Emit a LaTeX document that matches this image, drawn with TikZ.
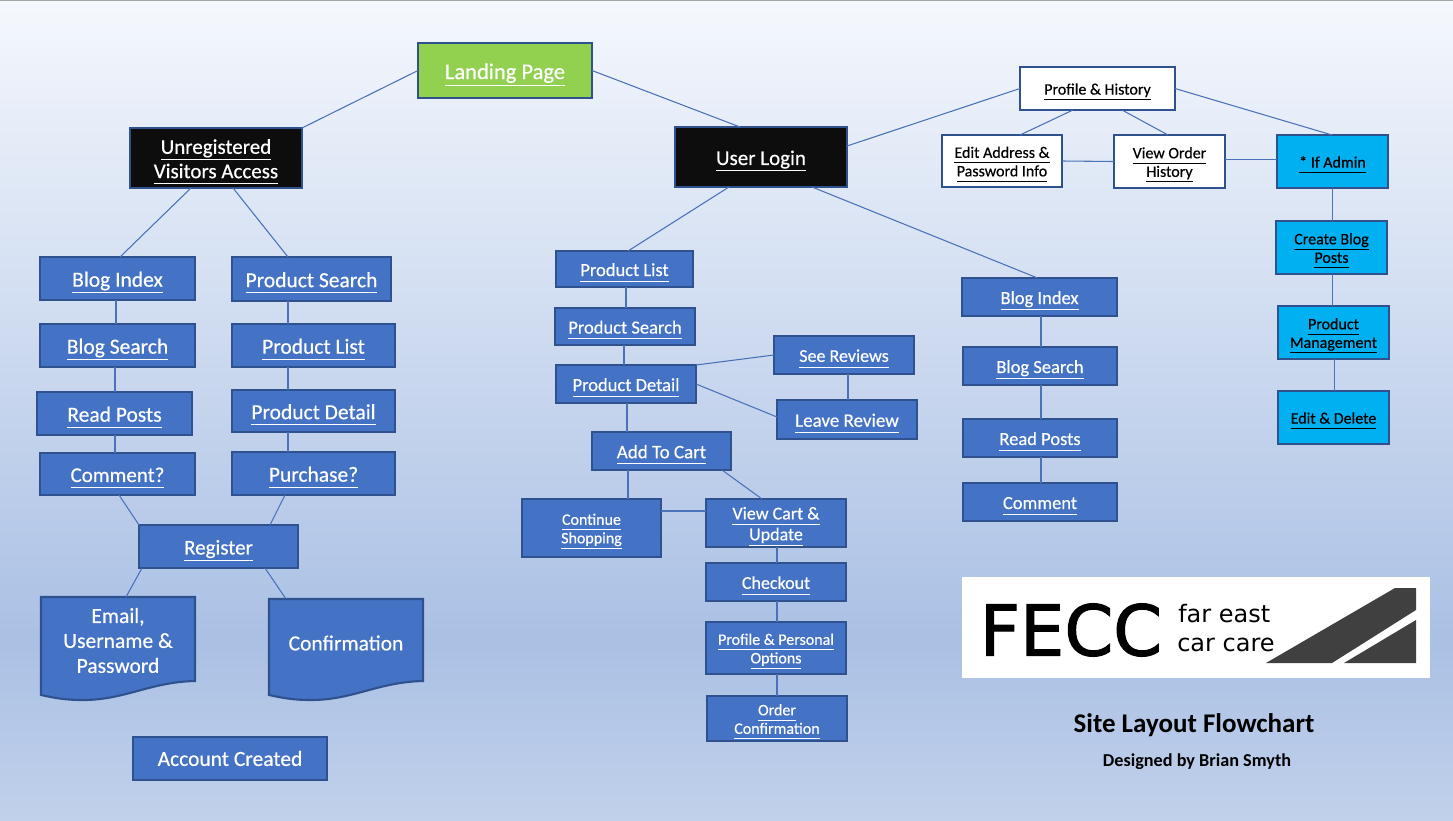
\documentclass[tikz,border=0pt]{standalone}
\usepackage{fontspec}
\setmainfont{Carlito}
\newfontfamily\cardfont[FakeBold=0.45]{Carlito}
\newfontfamily\logofont[FakeBold=1.6]{DejaVu Sans}
\newfontfamily\logosmall{DejaVu Sans}
\newlength{\upx}\setlength{\upx}{0.75pt}
\newcommand{\fs}[1]{\fontsize{#1\upx}{1.16\dimexpr#1\upx\relax}\selectfont}
\newcommand{\ul}[1]{\leavevmode\smash{\underline{\smash{#1}\vphantom{g}}}\rule[-0.04em]{0pt}{0.84em}}
\definecolor{boxblue}{HTML}{4472C4}
\definecolor{edgeblue}{HTML}{2F528F}
\definecolor{linkblue}{HTML}{4A72B8}
\definecolor{adminblue}{HTML}{00B0F0}
\definecolor{landgreen}{HTML}{92D050}
\tikzset{
 x=0.75pt,y=-0.75pt,
 px/.style={font=\cardfont\fs{#1}},
 cardbase/.style={draw=edgeblue,line width=1.6pt,inner sep=0pt,outer sep=0pt,align=center},
 bluecard/.style={cardbase,fill=boxblue,text=white},
 whitecard/.style={cardbase,fill=white,text=black},
 admincard/.style={cardbase,fill=adminblue,text=black},
 blackcard/.style={cardbase,fill=black!95,text=white},
 greencard/.style={cardbase,fill=landgreen,text=white},
 link/.style={draw=linkblue,line width=0.8pt},
 docshape/.style={draw=edgeblue,line width=1.6pt,fill=boxblue},
 doctext/.style={text=white,align=center,inner sep=0pt},
}
\newcommand{\bx}[7]{%
 \pgfmathsetmacro{\cx}{(#3+#5)/2}\pgfmathsetmacro{\cy}{(#4+#6)/2}%
 \pgfmathsetmacro{\bw}{(#5-#3)}\pgfmathsetmacro{\bh}{(#6-#4)}%
 \node[#1,minimum width=\bw\upx,minimum height=\bh\upx] (#2) at (\cx,\cy) {#7};}
\begin{document}
\begin{tikzpicture}
\useasboundingbox (0,0) rectangle (1453,821);
\shade[top color={rgb,255:red,245;green,248;blue,253},bottom color={rgb,255:red,170;green,192;blue,228}] (0,0) rectangle (1453,640);
\shade[top color={rgb,255:red,170;green,192;blue,228},bottom color={rgb,255:red,193;green,209;blue,235}] (0,640) rectangle (1453,821);
\draw[black!35,line width=0.8pt] (0,0.5) -- (1453,0.5);

% top level
\bx{greencard,px=22.5}{landing}{418}{43}{592}{98}{\ul{Landing Page}}
\bx{blackcard,px=21}{unreg}{130}{128}{302}{188}{\ul{Unregistered}\\\ul{Visitors Access}}
\bx{blackcard,px=21}{login}{675}{127}{847}{187}{\ul{User Login}}
% profile group
\bx{whitecard,px=16}{profile}{1020}{67}{1175}{110}{\ul{Profile \& History}}
\bx{whitecard,px=16}{editaddr}{942}{135}{1062}{187}{\ul{Edit Address \&}\\\ul{Password Info}}
\bx{whitecard,px=16}{orders}{1114}{135}{1225}{188}{\ul{View Order}\\\ul{History}}
\bx{admincard,px=16}{admin}{1277}{135}{1388}{188}{\ul{* If Admin}}
\bx{admincard,px=16}{create}{1276}{221}{1387}{274}{\ul{Create Blog}\\\ul{Posts}}
\bx{admincard,px=16}{manage}{1278}{306}{1389}{359}{\ul{Product}\\\ul{Management}}
\bx{admincard,px=16}{editdel}{1278}{391}{1389}{444}{\ul{Edit \& Delete}}
% unregistered columns
\bx{bluecard,px=21.5}{lblog}{40}{257}{195}{300}{\ul{Blog Index}}
\bx{bluecard,px=21.5}{lsearch}{40}{324}{195}{367}{\ul{Blog Search}}
\bx{bluecard,px=21.5}{lread}{37}{392}{192}{435}{\ul{Read Posts}}
\bx{bluecard,px=21}{lcomment}{40}{453}{195}{495}{\ul{Comment?}}
\bx{bluecard,px=21.5}{pssearch}{232}{257}{391}{301}{\ul{Product Search}}
\bx{bluecard,px=21.5}{pslist}{232}{324}{395}{367}{\ul{Product List}}
\bx{bluecard,px=21.5}{psdetail}{232}{390}{395}{432}{\ul{Product Detail}}
\bx{bluecard,px=21.5}{purchase}{232}{452}{395}{495}{\ul{Purchase?}}
\bx{bluecard,px=21}{register}{139}{525}{298}{568}{\ul{Register}}
\bx{bluecard,px=21.5}{created}{133}{737}{327}{780}{Account Created}
% documents
\draw[docshape] (41,597) -- (195,597) -- (195,681) .. controls (150,682) and (125,700) .. (83,700) .. controls (65,700) and (55,698) .. (41,695) -- cycle;
\node[doctext,px=21.5] (email) at (118,640.5) {Email,\\Username \&\\Password};
\draw[docshape] (269,599) -- (423,599) -- (423,681) .. controls (378,682) and (353,700) .. (311,700) .. controls (293,700) and (283,698) .. (269,695) -- cycle;
\node[doctext,px=21.5] (confirm) at (346,643) {Confirmation};
\coordinate (emailtop) at (126,597);
\coordinate (confirmtop) at (286,599);
% logged-in column
\bx{bluecard,px=18.5}{mlist}{556}{251}{693}{287}{\ul{Product List}}
\bx{bluecard,px=18.5}{msearch}{555}{308}{695}{345}{\ul{Product Search}}
\bx{bluecard,px=18.5}{mdetail}{556}{365}{696}{403}{\ul{Product Detail}}
\bx{bluecard,px=18}{seerev}{774}{336}{914}{374}{\ul{See Reviews}}
\bx{bluecard,px=19}{leaverev}{777}{400}{917}{439}{\ul{Leave Review}}
\bx{bluecard,px=19}{addcart}{592}{432}{731}{470}{\ul{Add To Cart}}
\bx{bluecard,px=16}{continue}{522}{499}{661}{557}{\ul{Continue}\\\ul{Shopping}}
\bx{bluecard,px=18}{viewcart}{706}{499}{846}{547}{\ul{View Cart \&}\\\ul{Update}}
\bx{bluecard,px=18}{checkout}{706}{563}{846}{601}{\ul{Checkout}}
\bx{bluecard,px=16}{personal}{706}{622}{846}{674}{\ul{Profile \& Personal}\\\ul{Options}}
\bx{bluecard,px=16}{orderconf}{707}{696}{847}{741}{\ul{Order}\\\ul{Confirmation}}
% blog column
\bx{bluecard,px=18.5}{rblog}{962}{278}{1117}{316}{\ul{Blog Index}}
\bx{bluecard,px=18.5}{rsearch}{963}{347}{1117}{385}{\ul{Blog Search}}
\bx{bluecard,px=18.5}{rread}{963}{419}{1117}{457}{\ul{Read Posts}}
\bx{bluecard,px=18.5}{rcomment}{963}{483}{1117}{521}{\ul{Comment}}

% connectors
\draw[link] (landing.west) -- (unreg.north east);
\draw[link] (landing.east) -- ([xshift=-21\upx]login.north);
\draw[link] ([yshift=11\upx]login.east) -- (profile.west);
\draw[link] (profile.east) -- ([xshift=-0.5\upx]admin.north);
\draw[link] ([xshift=-24.5\upx]profile.south) -- ([xshift=18\upx]editaddr.north);
\draw[link] ([xshift=24.5\upx]profile.south) -- ([xshift=-1.5\upx]orders.north);
\draw[link] (editaddr.east) -- (orders.west);
\draw[link] ([yshift=2\upx]orders.east) -- ([yshift=2\upx]admin.west);
\draw[link] (admin.south) -- ([xshift=1\upx]create.north);
\draw[link] ([xshift=1\upx]create.south) -- ([xshift=-1\upx]manage.north);
\draw[link] ([xshift=1\upx]manage.south) -- ([xshift=1\upx]editdel.north);
\draw[link] ([xshift=-25\upx]unreg.south) -- ([xshift=2.5\upx]lblog.north);
\draw[link] ([xshift=17\upx]unreg.south) -- ([xshift=-23.5\upx]pssearch.north);
\draw[link] ([xshift=-1.5\upx]lblog.south) -- ([xshift=-1.5\upx]lsearch.north);
\draw[link] ([xshift=-2.5\upx]lsearch.south) -- ([xshift=0.5\upx]lread.north);
\draw[link] ([xshift=0.5\upx]lread.south) -- ([xshift=-2.5\upx]lcomment.north);
\draw[link] ([xshift=-23.5\upx]pssearch.south) -- ([xshift=-25.5\upx]pslist.north);
\draw[link] ([xshift=-25.5\upx]pslist.south) -- ([xshift=-25.5\upx]psdetail.north);
\draw[link] ([xshift=-25.5\upx]psdetail.south) -- ([xshift=-25.5\upx]purchase.north);
\draw[link] ([xshift=1.5\upx]lcomment.south) -- (register.north west);
\draw[link] ([xshift=-28.5\upx]purchase.south) -- ([xshift=51.5\upx]register.north);
\draw[link] ([xshift=-76.5\upx]register.south) -- (emailtop);
\draw[link] ([xshift=46.5\upx]register.south) -- (confirmtop);
\draw[link] ([xshift=-32\upx]login.south) -- ([xshift=3.5\upx]mlist.north);
\draw[link] ([xshift=51\upx]login.south) -- ([xshift=-2\upx]rblog.north);
\draw[link] ([xshift=1.5\upx]mlist.south) -- ([xshift=1\upx]msearch.north);
\draw[link] ([xshift=-1\upx]msearch.south) -- ([xshift=-2\upx]mdetail.north);
\draw[link] ([xshift=1\upx]mdetail.south) -- ([xshift=-34.5\upx]addcart.north);
\draw[link] (mdetail.north east) -- (seerev.west);
\draw[link] (mdetail.east) -- ([yshift=2.5\upx]leaverev.west);
\draw[link] ([xshift=4\upx]seerev.south) -- ([xshift=1\upx]leaverev.north);
\draw[link] ([xshift=-33.5\upx]addcart.south) -- ([xshift=36.5\upx]continue.north);
\draw[link] ([xshift=60.5\upx]addcart.south) -- ([xshift=-14\upx]viewcart.north);
\draw[link] ([yshift=17\upx]continue.east) -- ([yshift=12\upx]viewcart.west);
\draw[link] ([xshift=1\upx]viewcart.south) -- ([xshift=1\upx]checkout.north);
\draw[link] ([xshift=1\upx]checkout.south) -- ([xshift=1\upx]personal.north);
\draw[link] ([xshift=1\upx]personal.south) -- (orderconf.north);
\draw[link] ([xshift=1.5\upx]rblog.south) -- ([xshift=1\upx]rsearch.north);
\draw[link] ([xshift=1\upx]rsearch.south) -- ([xshift=1\upx]rread.north);
\draw[link] ([xshift=1\upx]rread.south) -- ([xshift=1\upx]rcomment.north);

% logo
\node[fill=white,inner sep=0pt,minimum width=468\upx,minimum height=101\upx] (logo) at (1196,627.5) {};
\node[inner sep=0pt,font=\logofont\fs{70}] (fecc) at (1071,630) {FECC};
\node[inner sep=0pt,anchor=west,font=\logosmall\fs{24}] (fareast) at (1178,614) {far east};
\node[inner sep=0pt,anchor=west,font=\logosmall\fs{24}] (carcare) at (1177,645) {car care};
\fill[black!75] (1266,663) -- (1395,588) -- (1416,588) -- (1416,610) -- (1332,663) -- cycle;
\fill[black!75] (1344,663) -- (1416,620) -- (1416,663) -- cycle;
% titles
\node[inner sep=0pt,font=\fs{27}\bfseries] (title) at (1194,725) {Site Layout Flowchart};
\node[inner sep=0pt,font=\fs{18.2}\bfseries] (author) at (1197,762) {Designed by Brian Smyth};
\end{tikzpicture}
\end{document}
